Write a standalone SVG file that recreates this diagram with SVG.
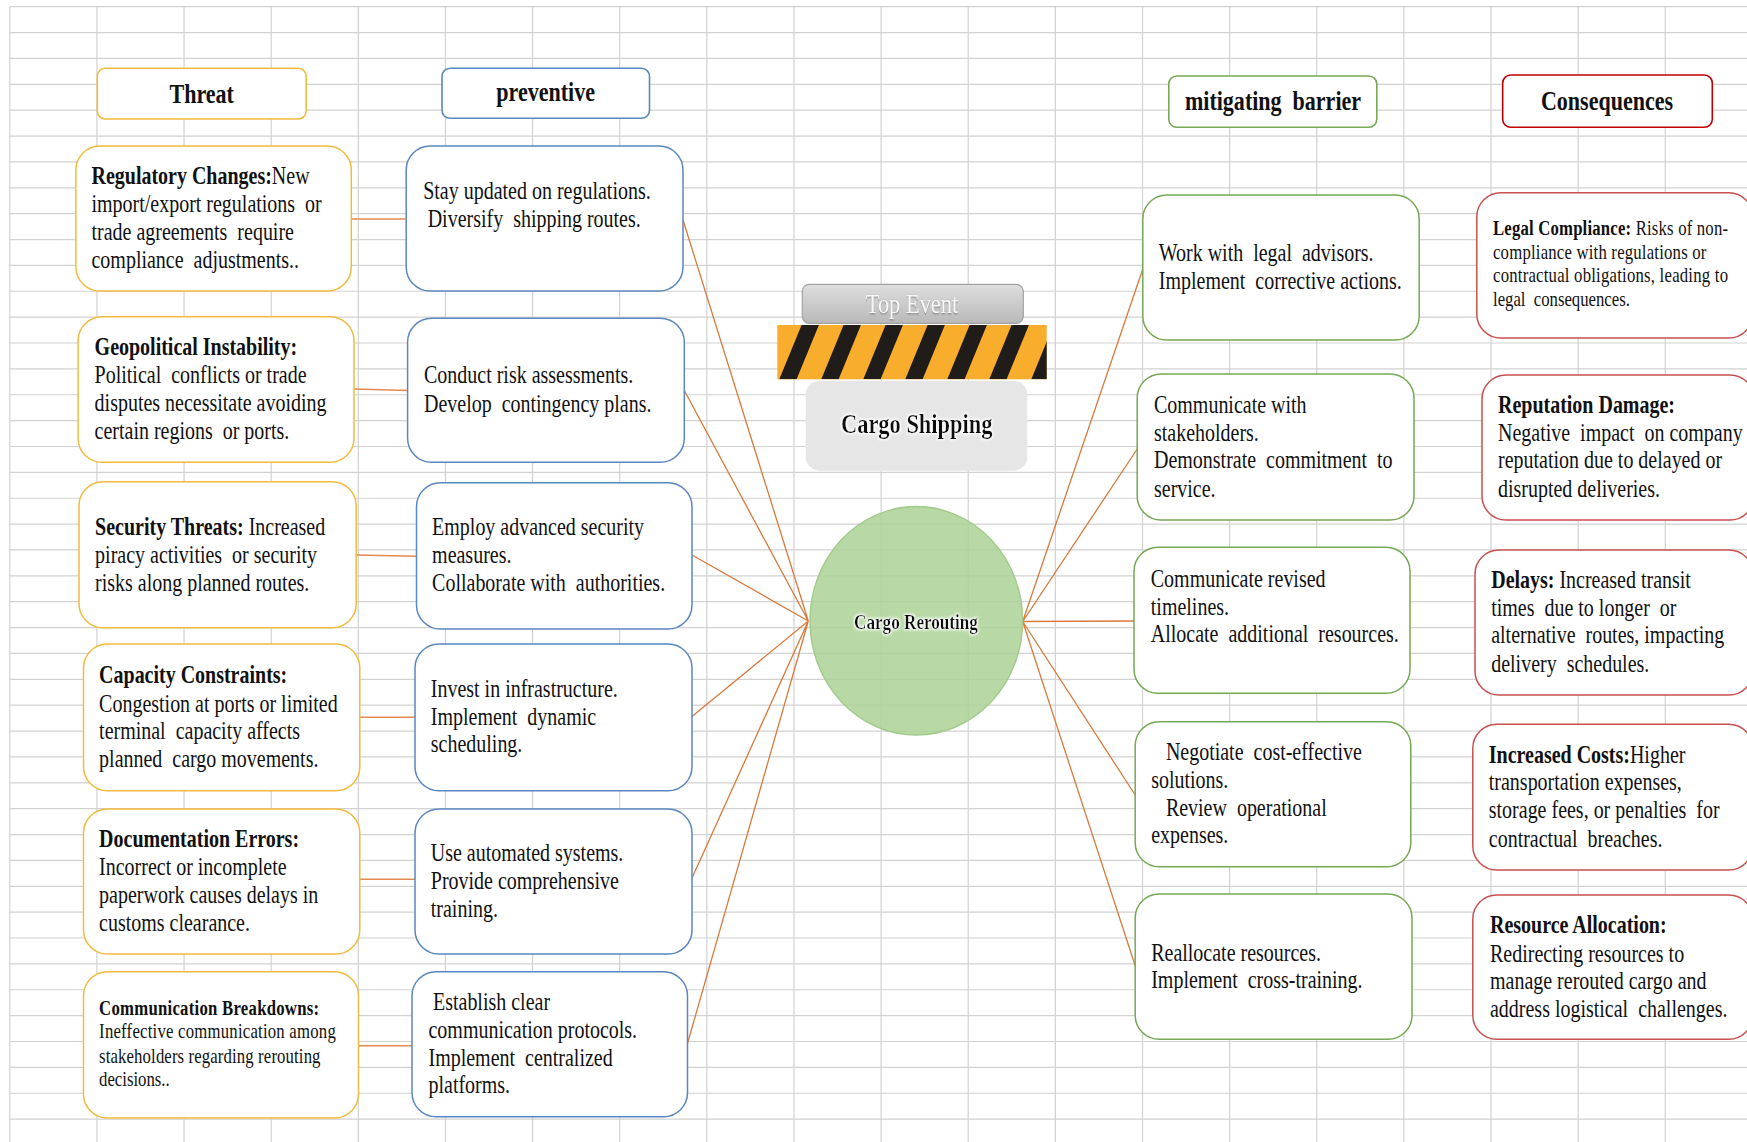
<svg xmlns="http://www.w3.org/2000/svg" width="1747" height="1142" viewBox="0 0 1747 1142">
<style>
text{white-space:pre}
.grid{stroke:#d2d2d2;stroke-width:1.2;fill:none}
.box{fill:#fff;stroke-width:1.5}
.hdr{fill:#fff;stroke-width:1.6}
.thr{stroke:#f2bb3f}
.prv{stroke:#5b87c0}
.mit{stroke:#76a855}
.con{stroke:#c9504e}
.t{font-family:"Liberation Serif","Times New Roman",serif;font-size:24.5px;fill:#111}
.ts{font-size:20.5px}
.b{font-weight:bold}
.h{font-family:"Liberation Serif","Times New Roman",serif;font-size:27px;font-weight:bold;text-anchor:middle;fill:#111}
.link{stroke:#d9793c;stroke-width:1.3;fill:none}
.link2{stroke:#e48a50;stroke-width:1.6;fill:none}
</style>
<defs>
<linearGradient id="gTop" x1="0" y1="0" x2="0" y2="1">
<stop offset="0" stop-color="#dedede"/>
<stop offset="1" stop-color="#b9b9b9"/>
</linearGradient>
<clipPath id="barClip"><rect x="777.3" y="325" width="269.4" height="54.3"/></clipPath>
<filter id="glow" x="-10%" y="-30%" width="120%" height="160%">
<feMorphology in="SourceAlpha" operator="dilate" radius="1.4" result="d"/>
<feGaussianBlur in="d" stdDeviation="1.4" result="bl"/>
<feFlood flood-color="#ffffff"/>
<feComposite in2="bl" operator="in" result="w"/>
<feMerge><feMergeNode in="w"/><feMergeNode in="SourceGraphic"/></feMerge>
</filter>
<filter id="shadow" x="-10%" y="-30%" width="120%" height="160%">
<feGaussianBlur in="SourceAlpha" stdDeviation="0.8" result="bl"/>
<feOffset dx="0.5" dy="0.8" result="o"/>
<feFlood flood-color="#777"/>
<feComposite in2="o" operator="in" result="s"/>
<feMerge><feMergeNode in="s"/><feMergeNode in="SourceGraphic"/></feMerge>
</filter>
</defs>
<rect width="1747" height="1142" fill="#fff"/>
<g id="grid">
<path class="grid" d="M9.8 6.7H1747M9.8 32.57H1747M9.8 58.44H1747M9.8 84.31H1747M9.8 110.18H1747M9.8 136.05H1747M9.8 161.92H1747M9.8 187.79H1747M9.8 213.66H1747M9.8 239.53H1747M9.8 265.4H1747M9.8 291.27H1747M9.8 317.14H1747M9.8 343.01H1747M9.8 368.88H1747M9.8 394.75H1747M9.8 420.62H1747M9.8 446.49H1747M9.8 472.36H1747M9.8 498.23H1747M9.8 524.1H1747M9.8 549.97H1747M9.8 575.84H1747M9.8 601.71H1747M9.8 627.58H1747M9.8 653.45H1747M9.8 679.32H1747M9.8 705.19H1747M9.8 731.06H1747M9.8 756.93H1747M9.8 782.8H1747M9.8 808.67H1747M9.8 834.54H1747M9.8 860.41H1747M9.8 886.28H1747M9.8 912.15H1747M9.8 938.02H1747M9.8 963.89H1747M9.8 989.76H1747M9.8 1015.63H1747M9.8 1041.5H1747M9.8 1067.37H1747M9.8 1093.24H1747M9.8 1119.11H1747"/>
<path class="grid" d="M9.8 6.7V1142M96.93 6.7V1142M184.06 6.7V1142M271.19 6.7V1142M358.32 6.7V1142M445.45 6.7V1142M532.58 6.7V1142M619.71 6.7V1142M706.84 6.7V1142M793.97 6.7V1142M881.1 6.7V1142M968.23 6.7V1142M1055.36 6.7V1142M1142.49 6.7V1142M1229.62 6.7V1142M1316.75 6.7V1142M1403.88 6.7V1142M1491.01 6.7V1142M1578.14 6.7V1142M1665.27 6.7V1142"/>
</g>

<g id="connectors">
<path class="link2" d="M351.3 219H406.2M354 389L407.6 390.5M356.2 555L416.5 556.3M359.8 717.3H415M359.8 879.3H415M358.5 1045.7H412"/>
<path class="link" d="M683 220L808.3 621M684.3 390.5L808.3 621M692 555L808.3 621M692 716.5L808.3 621M692 878L808.3 621M687.5 1043.5L808.3 621"/>
<path class="link" d="M1022.7 621.5L1142.8 269M1022.7 621.5L1137.2 449M1022.7 621.5L1134 621M1022.7 621.5L1135.2 795M1022.7 621.5L1135.2 965.7"/>
</g>

<g id="threat-header">
<rect class="hdr thr" x="97.3" y="68.3" width="208.9" height="50.7" rx="8"/>
<g transform="translate(201.7 0) scale(0.816 1)"><text class="h" x="0" y="103">Threat</text></g>
</g>
<g id="preventive-header">
<rect class="hdr prv" x="442" y="68.3" width="207.5" height="50" rx="8"/>
<g transform="translate(545.7 0) scale(0.816 1)"><text class="h" x="0" y="101">preventive</text></g>
</g>
<g id="mitigating-header">
<rect class="hdr mit" x="1168.8" y="76" width="208" height="51.3" rx="8"/>
<g transform="translate(1273 0) scale(0.816 1)"><text class="h" x="0" y="110">mitigating  barrier</text></g>
</g>
<g id="consequences-header">
<rect class="hdr" x="1502.7" y="75" width="209.6" height="52.3" rx="8" stroke="#c00000" stroke-width="2.6"/>
<g transform="translate(1607 0) scale(0.816 1)"><text class="h" x="0" y="110">Consequences</text></g>
</g>

<g id="threat-1">
<rect class="box thr" x="75.9" y="146" width="275.4" height="145" rx="24"/>
<g transform="translate(91.5 0) scale(0.816 1)"><text class="t"><tspan x="0" y="184" class="b">Regulatory Changes:</tspan><tspan>New</tspan><tspan x="0" y="212">import/export regulations  or</tspan><tspan x="0" y="240">trade agreements  require</tspan><tspan x="0" y="268">compliance  adjustments..</tspan></text></g>
</g>
<g id="threat-2">
<rect class="box thr" x="78.1" y="316.7" width="275.9" height="145.6" rx="24"/>
<g transform="translate(94.6 0) scale(0.816 1)"><text class="t"><tspan x="0" y="355" class="b">Geopolitical Instability:</tspan><tspan x="0" y="383.3">Political  conflicts or trade</tspan><tspan x="0" y="411">disputes necessitate avoiding</tspan><tspan x="0" y="439">certain regions  or ports.</tspan></text></g>
</g>
<g id="threat-3">
<rect class="box thr" x="79" y="481.7" width="277.2" height="146" rx="24"/>
<g transform="translate(95.1 0) scale(0.816 1)"><text class="t"><tspan x="0" y="535" class="b">Security Threats:</tspan><tspan> Increased</tspan><tspan x="0" y="563.3">piracy activities  or security</tspan><tspan x="0" y="591">risks along planned routes.</tspan></text></g>
</g>
<g id="threat-4">
<rect class="box thr" x="83.5" y="644" width="276.3" height="146.7" rx="24"/>
<g transform="translate(99.1 0) scale(0.816 1)"><text class="t"><tspan x="0" y="683.3" class="b">Capacity Constraints:</tspan><tspan x="0" y="711.7">Congestion at ports or limited</tspan><tspan x="0" y="739">terminal  capacity affects</tspan><tspan x="0" y="767.3">planned  cargo movements.</tspan></text></g>
</g>
<g id="threat-5">
<rect class="box thr" x="83.5" y="809" width="276.3" height="145" rx="24"/>
<g transform="translate(99.1 0) scale(0.816 1)"><text class="t"><tspan x="0" y="846.7" class="b">Documentation Errors:</tspan><tspan x="0" y="875">Incorrect or incomplete</tspan><tspan x="0" y="902.7">paperwork causes delays in</tspan><tspan x="0" y="930.7">customs clearance.</tspan></text></g>
</g>
<g id="threat-6">
<rect class="box thr" x="83.5" y="971.7" width="275" height="146.3" rx="24"/>
<g transform="translate(99.1 0) scale(0.816 1)">
<text class="t ts b" x="0" y="1015" textLength="269.6" lengthAdjust="spacing">Communication Breakdowns:</text>
<text class="t ts" x="0" y="1038.3" textLength="290" lengthAdjust="spacing">Ineffective communication among</text>
<text class="t ts" x="0" y="1062.7" textLength="271.3" lengthAdjust="spacing">stakeholders regarding rerouting</text>
<text class="t ts" x="0" y="1086">decisions..</text>
</g>
</g>

<g id="preventive-1">
<rect class="box prv" x="406.2" y="146" width="276.8" height="145" rx="24"/>
<g transform="translate(423.2 0) scale(0.816 1)"><text class="t"><tspan x="0" y="199.3">Stay updated on regulations.</tspan><tspan x="5.5" y="227.3">Diversify  shipping routes.</tspan></text></g>
</g>
<g id="preventive-2">
<rect class="box prv" x="407.6" y="318.3" width="276.7" height="144" rx="24"/>
<g transform="translate(424 0) scale(0.816 1)"><text class="t"><tspan x="0" y="383.3">Conduct risk assessments.</tspan><tspan x="0" y="411.7">Develop  contingency plans.</tspan></text></g>
</g>
<g id="preventive-3">
<rect class="box prv" x="416.5" y="482.7" width="275.5" height="146.3" rx="24"/>
<g transform="translate(432.1 0) scale(0.816 1)"><text class="t"><tspan x="0" y="535">Employ advanced security</tspan><tspan x="0" y="563.3">measures.</tspan><tspan x="0" y="590.7">Collaborate with  authorities.</tspan></text></g>
</g>
<g id="preventive-4">
<rect class="box prv" x="415" y="644" width="277" height="146.7" rx="24"/>
<g transform="translate(430.8 0) scale(0.816 1)"><text class="t"><tspan x="0" y="696.7">Invest in infrastructure.</tspan><tspan x="0" y="725">Implement  dynamic</tspan><tspan x="0" y="752.3">scheduling.</tspan></text></g>
</g>
<g id="preventive-5">
<rect class="box prv" x="415" y="809" width="277" height="145" rx="24"/>
<g transform="translate(430.8 0) scale(0.816 1)"><text class="t"><tspan x="0" y="861">Use automated systems.</tspan><tspan x="0" y="889">Provide comprehensive</tspan><tspan x="0" y="916.7">training.</tspan></text></g>
</g>
<g id="preventive-6">
<rect class="box prv" x="412" y="971.7" width="275.5" height="145" rx="24"/>
<g transform="translate(428.5 0) scale(0.816 1)"><text class="t"><tspan x="5.5" y="1010">Establish clear</tspan><tspan x="0" y="1038.3">communication protocols.</tspan><tspan x="0" y="1066">Implement  centralized</tspan><tspan x="0" y="1093.3">platforms.</tspan></text></g>
</g>

<g id="top-event">
<rect x="802.3" y="284.3" width="221" height="39" rx="7" fill="url(#gTop)" stroke="#a2a2a2" stroke-width="1.2"/>
<g transform="translate(912 0) scale(0.816 1)"><text x="0" y="313.3" text-anchor="middle" font-family="Liberation Serif, Times New Roman, serif" font-size="27.5" fill="#f8f8f8" filter="url(#shadow)">Top Event</text></g>
</g>
<g id="hazard-bar">
<rect x="777.3" y="325" width="269.4" height="54.3" fill="#f8ad2c"/>
<g clip-path="url(#barClip)" fill="#1f1c1a">
<polygon points="779.3,379.3 796.6,379.3 818.9,325 801.6,325"/>
<polygon points="821.3,379.3 838.6,379.3 860.9,325 843.6,325"/>
<polygon points="863.3,379.3 880.6,379.3 902.9,325 885.6,325"/>
<polygon points="905.3,379.3 922.6,379.3 944.9,325 927.6,325"/>
<polygon points="947.3,379.3 964.6,379.3 986.9,325 969.6,325"/>
<polygon points="989.3,379.3 1006.6,379.3 1028.9,325 1011.6,325"/>
<polygon points="1031.3,379.3 1048.6,379.3 1070.9,325 1053.6,325"/>
</g>
</g>
<g id="cargo-shipping">
<rect x="805.7" y="380.7" width="221.6" height="90" rx="14" fill="#e6e6e6"/>
<g transform="translate(916.7 0) scale(0.816 1)"><text x="0" y="433.3" text-anchor="middle" font-family="Liberation Serif, Times New Roman, serif" font-size="27.5" font-weight="bold" fill="#111" filter="url(#glow)">Cargo Shipping</text></g>
</g>
<g id="cargo-rerouting">
<ellipse cx="916.3" cy="620.8" rx="106.3" ry="114.2" fill="#acd196" fill-opacity="0.85" stroke="#a3cb8c" stroke-width="1.5"/>
<g transform="translate(916 0) scale(0.816 1)"><text x="0" y="629.3" text-anchor="middle" font-family="Liberation Serif, Times New Roman, serif" font-size="21" font-weight="bold" fill="#111" filter="url(#glow)">Cargo Rerouting</text></g>
</g>

<g id="mitigating-1">
<rect class="box mit" x="1142.8" y="195" width="276.4" height="145" rx="24"/>
<g transform="translate(1158.8 0) scale(0.816 1)"><text class="t"><tspan x="0" y="261">Work with  legal  advisors.</tspan><tspan x="0" y="289.3">Implement  corrective actions.</tspan></text></g>
</g>
<g id="mitigating-2">
<rect class="box mit" x="1137.2" y="374" width="276.8" height="146" rx="24"/>
<g transform="translate(1154 0) scale(0.816 1)"><text class="t"><tspan x="0" y="412.7">Communicate with</tspan><tspan x="0" y="441">stakeholders.</tspan><tspan x="0" y="468.3">Demonstrate  commitment  to</tspan><tspan x="0" y="496.7">service.</tspan></text></g>
</g>
<g id="mitigating-3">
<rect class="box mit" x="1134" y="547.3" width="276" height="146" rx="24"/>
<g transform="translate(1150.8 0) scale(0.816 1)"><text class="t"><tspan x="0" y="586.7">Communicate revised</tspan><tspan x="0" y="615">timelines.</tspan><tspan x="0" y="642.3">Allocate  additional  resources.</tspan></text></g>
</g>
<g id="mitigating-4">
<rect class="box mit" x="1135.2" y="721.7" width="275.6" height="145" rx="24"/>
<g transform="translate(1151.2 0) scale(0.816 1)"><text class="t"><tspan x="18" y="760">Negotiate  cost-effective</tspan><tspan x="0" y="788.3">solutions.</tspan><tspan x="18" y="815.7">Review  operational</tspan><tspan x="0" y="843.3">expenses.</tspan></text></g>
</g>
<g id="mitigating-5">
<rect class="box mit" x="1135.2" y="894" width="276.8" height="145.3" rx="24"/>
<g transform="translate(1151.2 0) scale(0.816 1)"><text class="t"><tspan x="0" y="960.7">Reallocate resources.</tspan><tspan x="0" y="988.3">Implement  cross-training.</tspan></text></g>
</g>

<g id="consequence-1">
<rect class="box con" x="1476.8" y="192.7" width="276" height="145.3" rx="24"/>
<g transform="translate(1493 0) scale(0.816 1)">
<text class="t ts" x="0" y="235.5" textLength="288" lengthAdjust="spacing"><tspan class="b">Legal Compliance:</tspan> Risks of non-</text>
<text class="t ts" x="0" y="258.7" textLength="261.5" lengthAdjust="spacing">compliance with regulations or</text>
<text class="t ts" x="0" y="282" textLength="288" lengthAdjust="spacing">contractual obligations, leading to</text>
<text class="t ts" x="0" y="306">legal  consequences.</text>
</g>
</g>
<g id="consequence-2">
<rect class="box con" x="1482" y="375" width="272" height="145" rx="24"/>
<g transform="translate(1498 0) scale(0.816 1)"><text class="t"><tspan x="0" y="413.3" class="b">Reputation Damage:</tspan><tspan x="0" y="441">Negative  impact  on company</tspan><tspan x="0" y="468.3">reputation due to delayed or</tspan><tspan x="0" y="496.7">disrupted deliveries.</tspan></text></g>
</g>
<g id="consequence-3">
<rect class="box con" x="1475" y="550" width="278" height="145" rx="24"/>
<g transform="translate(1491.2 0) scale(0.816 1)"><text class="t"><tspan x="0" y="587.7" class="b">Delays:</tspan><tspan> Increased transit</tspan><tspan x="0" y="616">times  due to longer  or</tspan><tspan x="0" y="643.3">alternative  routes, impacting</tspan><tspan x="0" y="671.7">delivery  schedules.</tspan></text></g>
</g>
<g id="consequence-4">
<rect class="box con" x="1472.8" y="724.3" width="280" height="145.7" rx="24"/>
<g transform="translate(1488.8 0) scale(0.816 1)"><text class="t"><tspan x="0" y="762.7" class="b">Increased Costs:</tspan><tspan>Higher</tspan><tspan x="0" y="790">transportation expenses,</tspan><tspan x="0" y="818.3">storage fees, or penalties  for</tspan><tspan x="0" y="846.7">contractual  breaches.</tspan></text></g>
</g>
<g id="consequence-5">
<rect class="box con" x="1472.8" y="895" width="280" height="144.3" rx="24"/>
<g transform="translate(1490 0) scale(0.816 1)"><text class="t"><tspan x="0" y="933.3" class="b">Resource Allocation:</tspan><tspan x="0" y="961.7">Redirecting resources to</tspan><tspan x="0" y="989.3">manage rerouted cargo and</tspan><tspan x="0" y="1017.3">address logistical  challenges.</tspan></text></g>
</g>
</svg>
